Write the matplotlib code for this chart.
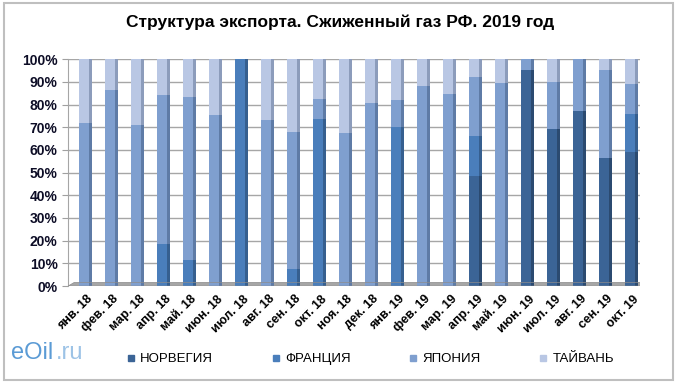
import matplotlib
matplotlib.use("Agg")
import matplotlib.pyplot as plt
from matplotlib.patches import Rectangle, Polygon
from matplotlib.lines import Line2D
import numpy as np

months = ["янв. 18", "фев. 18", "мар. 18", "апр. 18", "май. 18", "июн. 18", "июл. 18",
          "авг. 18", "сен. 18", "окт. 18", "ноя. 18", "дек. 18", "янв. 19", "фев. 19",
          "мар. 19", "апр. 19", "май. 19", "июн. 19", "июл. 19", "авг. 19", "сен. 19", "окт. 19"]
series = ["НОРВЕГИЯ", "ФРАНЦИЯ", "ЯПОНИЯ", "ТАЙВАНЬ"]

# shares, % of monthly exports
norway = [0, 0, 0, 0, 0, 0, 0, 0, 0, 0, 0, 0, 0, 0, 0, 48.5, 0, 95.2, 69, 77.2, 56.5, 59]
france = [0, 0, 0, 18.5, 11.7, 0, 100, 0, 7.6, 73.6, 0, 0, 70, 0, 0, 17.7, 0, 0, 0, 0, 0, 16.8]
japan = [72, 86.6, 70.9, 65.9, 71.7, 75.2, 0, 73.4, 60.1, 8.8, 67.5, 80.5, 11.8, 88, 84.6,
         26, 89.3, 4.8, 21, 22.8, 38.7, 13.2]
taiwan = [28, 13.4, 29.1, 15.6, 16.6, 24.8, 0, 26.6, 32.3, 17.6, 32.5, 19.5, 18.2, 12, 15.4,
          7.8, 10.7, 0, 10, 0, 4.8, 11]

FRONT = ["#3B6496", "#4A7EBB", "#7F9FCF", "#B9C7E4"]
SIDE = ["#2B4A70", "#365F8F", "#5E7BA6", "#8C9CBB"]

plt.rcParams["font.family"] = ["Liberation Sans", "DejaVu Sans"]

fig = plt.figure(figsize=(6.8, 3.84), dpi=100)
fig.patches.append(Rectangle((0.006, 0.01), 0.984, 0.982, transform=fig.transFigure,
                             fill=False, edgecolor="#BFBFBF", linewidth=1.5))

ax = fig.add_axes([0.1, 0.255, 0.841, 0.591])
x = np.arange(len(months))
w = 0.36
sw = 0.13
bottom = np.zeros(len(months))
for vals, fc, sc, name in zip([norway, france, japan, taiwan], FRONT, SIDE, series):
    v = np.array(vals)
    ax.bar(x, v, w, bottom=bottom, color=fc, edgecolor="none", zorder=3, label=name)
    ax.bar(x + w / 2 + sw / 2, v, sw, bottom=bottom, color=sc, edgecolor="none", zorder=3)
    bottom += v

# floor of the 3D box
floor = [(-0.62, 0), (21.38, 0), (21.62, 1.6), (-0.38, 1.6)]
ax.add_patch(Polygon(floor, closed=True, facecolor="#A6A6A6", edgecolor="none", zorder=2))
ax.add_patch(Polygon(floor, closed=True, facecolor="none", edgecolor="#8C8C8C",
                     linewidth=0.5, zorder=4))

ax.set_xlim(-0.62, 21.38)
ax.set_ylim(0, 100)
ax.set_yticks(np.arange(0, 101, 10))
ax.set_yticklabels([f"{t}%" for t in range(0, 101, 10)], fontsize=10, fontweight="bold",
                   color="#0D0D26")
ax.set_xticks(x + 0.1)
ax.set_xticklabels(months, rotation=45, ha="right", rotation_mode="anchor",
                   fontsize=9, fontweight="bold")
ax.tick_params(axis="x", length=0, pad=5)
ax.tick_params(axis="y", length=4, color="#A0A0A0")
ax.yaxis.grid(True, color="#A6A6A6", linewidth=1.0, zorder=0)
ax.set_axisbelow(True)
for s in ["top", "right", "bottom"]:
    ax.spines[s].set_visible(False)
ax.spines["left"].set_color("#A6A6A6")

fig.text(0.5, 0.942, "Структура экспорта. Сжиженный газ РФ. 2019 год", ha="center",
         va="center", fontsize=12.5, fontweight="bold")

handles = [Line2D([], [], marker="s", linestyle="none", markersize=5,
                  markerfacecolor=c, markeredgecolor=c) for c in FRONT]
fig.legend(handles, series, loc="center", bbox_to_anchor=(0.543, 0.065), ncol=4,
           frameon=False, fontsize=9.5, handletextpad=0.2, columnspacing=4.25,
           handlelength=1.0)

fig.text(0.016, 0.08, "eOil", color="#5B9BD5", fontsize=17, va="center", ha="left")
fig.text(0.082, 0.08, ".ru", color="#9DC3E6", fontsize=17, va="center", ha="left")

fig.savefig("out.png", dpi=100)
